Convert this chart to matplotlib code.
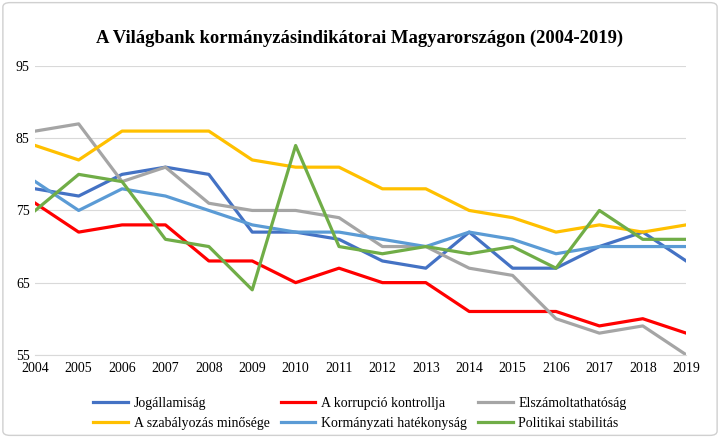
import matplotlib.pyplot as plt
from matplotlib.patches import FancyBboxPatch

plt.rcParams['font.family'] = ['Liberation Serif', 'DejaVu Serif']

# data
years = ['2004', '2005', '2006', '2007', '2008', '2009', '2010', '2011',
         '2012', '2013', '2014', '2015', '2106', '2017', '2018', '2019']
jogallamisag = [78, 77, 80, 81, 80, 72, 72, 71, 68, 67, 72, 67, 67, 70, 72, 68]
korrupcio = [76, 72, 73, 73, 68, 68, 65, 67, 65, 65, 61, 61, 61, 59, 60, 58]
elszamoltathatosag = [86, 87, 79, 81, 76, 75, 75, 74, 70, 70, 67, 66, 60, 58, 59, 55]
szabalyozas = [84, 82, 86, 86, 86, 82, 81, 81, 78, 78, 75, 74, 72, 73, 72, 73]
hatekonysag = [79, 75, 78, 77, 75, 73, 72, 72, 71, 70, 72, 71, 69, 70, 70, 70]
stabilitas = [75, 80, 79, 71, 70, 64, 84, 70, 69, 70, 69, 70, 67, 75, 71, 71]

series = [
    ('Jogállamiság', jogallamisag, '#4472C4'),
    ('A korrupció kontrollja', korrupcio, '#FF0000'),
    ('Elszámoltathatóság', elszamoltathatosag, '#A5A5A5'),
    ('A szabályozás minősége', szabalyozas, '#FFC000'),
    ('Kormányzati hatékonyság', hatekonysag, '#5B9BD5'),
    ('Politikai stabilitás', stabilitas, '#70AD47'),
]

fig = plt.figure(figsize=(7.2, 4.38), dpi=100)
ax = fig.add_axes([0.049, 0.19, 0.904, 0.659])

# outer chart border
fig.patches.append(FancyBboxPatch((0.004, 0.006), 0.992, 0.988,
                                  boxstyle='round,pad=0,rounding_size=0.01',
                                  transform=fig.transFigure, fill=False,
                                  edgecolor='#D0D0D0', linewidth=1.0))

x = list(range(len(years)))
handles = {}
for name, vals, col in series:
    line, = ax.plot(x, vals, color=col, linewidth=2.3, label=name,
                    solid_joinstyle='round')
    handles[name] = line

ax.set_xlim(0, len(years) - 1)
ax.set_ylim(55, 95)
ax.set_yticks([55, 65, 75, 85, 95])
ax.set_xticks(x)
ax.set_xticklabels(years)
ax.tick_params(axis='both', length=0, labelsize=10)
ax.tick_params(axis='x', pad=5)
ax.tick_params(axis='y', pad=4)
ax.grid(axis='y', color='#D9D9D9', linewidth=0.8)
ax.set_axisbelow(True)
for side in ['left', 'right', 'top']:
    ax.spines[side].set_visible(False)
ax.spines['bottom'].set_color('#D9D9D9')

fig.text(0.5, 0.913, 'A Világbank kormányzásindikátorai Magyarországon (2004-2019)',
         ha='center', va='center', fontsize=13.4, fontweight='bold')

order = ['Jogállamiság', 'A szabályozás minősége', 'A korrupció kontrollja',
         'Kormányzati hatékonyság', 'Elszámoltathatóság', 'Politikai stabilitás']
fig.legend([handles[n] for n in order], order, ncol=3, loc='center',
           bbox_to_anchor=(0.5, 0.056), frameon=False, fontsize=10,
           handlelength=2.5, columnspacing=0.8, handletextpad=0.4,
           labelspacing=0.45)

fig.savefig('out.png', dpi=100)
